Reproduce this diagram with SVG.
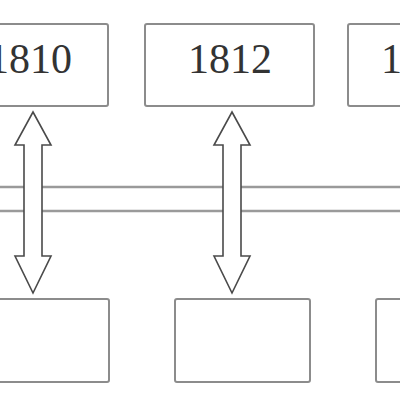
<svg xmlns="http://www.w3.org/2000/svg" width="400" height="400" viewBox="0 0 400 400">
<style>
.box{fill:#fff;stroke:#8c8c8c;stroke-width:2}
.lbl{font-family:"Liberation Serif",serif;font-size:42px;fill:#333;text-anchor:middle}
.bar{fill:#fff;stroke:#9a9a9a;stroke-width:2.5}
.arr{fill:#fff;stroke:#4a4a4a;stroke-width:1.6;stroke-linejoin:miter}
</style>
<rect width="400" height="400" fill="#fff"/>
<g id="timeline"><rect class="bar" x="-10" y="187" width="420" height="24"/></g>
<g id="top-1810"><rect class="box" x="-61" y="24" width="169" height="82" rx="2"/><text class="lbl" x="30" y="73">1810</text></g>
<g id="top-1812"><rect class="box" x="145" y="24" width="169" height="82" rx="2"/><text class="lbl" x="230" y="73">1812</text></g>
<g id="top-3"><rect class="box" x="348" y="24" width="169" height="82" rx="2"/><text class="lbl" x="381" y="73" style="text-anchor:start">1</text></g>
<g id="bottom-1"><rect class="box" x="-26" y="299" width="135" height="83" rx="2"/></g>
<g id="bottom-2"><rect class="box" x="175" y="299" width="135" height="83" rx="2"/></g>
<g id="bottom-3"><rect class="box" x="376" y="299" width="135" height="83" rx="2"/></g>
<g id="connectors">
<polygon class="arr" points="33,112 51,145 42,145 42,256 51,256 33,293 15,256 24,256 24,145 15,145"/>
<polygon class="arr" points="232,112 250,145 241,145 241,256 250,256 232,293 214,256 223,256 223,145 214,145"/>
</g>
</svg>
